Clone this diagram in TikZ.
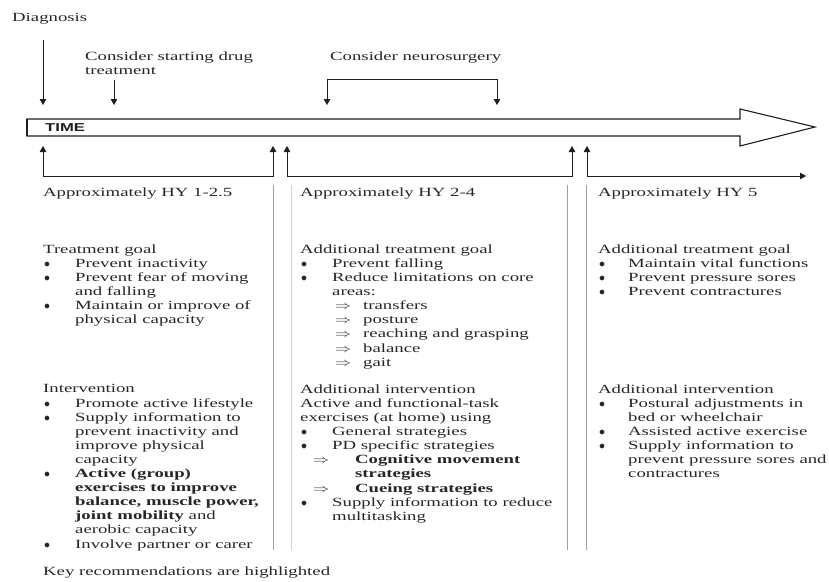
\documentclass[tikz,border=0pt]{standalone}
\usepackage{fontspec}
\setmainfont{Liberation Serif}[FakeStretch=1.50]
\newfontfamily\timefont{Liberation Sans}[FakeStretch=1.45]
\usepackage{xcolor}
\usepackage{graphicx}
\usetikzlibrary{arrows.meta}
\definecolor{pdtext}{HTML}{262626}
\definecolor{pdline}{HTML}{1E1E1E}
\definecolor{pdsep}{HTML}{A0A0A0}
\definecolor{pdpale}{HTML}{D2D2D2}
\newcommand{\bul}[1][32]{\makebox[#1pt][l]{\hspace*{1pt}$\bullet$}}
\newcommand{\ind}[1][32]{\hspace*{#1pt}}
\newcommand{\subarr}[2]{\makebox[#2pt][l]{\hspace*{#1pt}\scalebox{1.35}[1]{$\Rightarrow$}}}

\begin{document}
\begin{tikzpicture}[x=1pt,y=-1pt,
  txt/.style={anchor=base west,inner sep=0pt,align=left,text=pdtext,font=\fontsize{12.5}{14.1}\selectfont},
  block/.style={txt,anchor=north west},
  tip/.style={-{Triangle[width=6.5pt,length=6pt]},line width=0.9pt,draw=pdline},
  twotip/.style={{Triangle[width=6.5pt,length=6pt]}-{Triangle[width=6.5pt,length=6pt]},line width=0.9pt,draw=pdline},
  timebar/.style={draw=pdline,fill=white,line width=1.1pt},
  colsep/.style={draw=pdsep,line width=0.9pt},
  palesep/.style={draw=pdpale,line width=0.9pt}
]
  \useasboundingbox (0,0) rectangle (829,581);

  \node[txt] (diag) at (12,21) {Diagnosis};
  \node[block] (drug) at (85,51.5) {Consider starting drug\\treatment};
  \node[txt] (neuro) at (330,60) {Consider neurosurgery};

  \draw[timebar] (27,119) -- (740,119) -- (740,109) -- (815,127) -- (740,146) -- (740,136) -- (27,136) -- cycle;
  \draw[pdline,line width=2pt] (27,119) -- (27,136);
  \node[anchor=west,inner sep=0pt,text=pdline,font=\timefont\bfseries\fontsize{11.5}{13}\selectfont] (time) at (45,128) {TIME};

  \coordinate (diagtop) at (43,40);
  \coordinate (diagend) at (43,105);
  \coordinate (drugtop) at (114,80);
  \coordinate (drugend) at (114,105);
  \coordinate (neuroa) at (327,105);
  \coordinate (neurob) at (497,105);
  \draw[tip] (diagtop) -- (diagend);
  \draw[tip] (drugtop) -- (drugend);
  \draw[twotip] (neuroa) -- (327,79) -- (497,79) -- (neurob);

  \coordinate (hya) at (43,146);
  \coordinate (hyb) at (273,146);
  \coordinate (hyc) at (287,146);
  \coordinate (hyd) at (572,146);
  \coordinate (hye) at (587,146);
  \coordinate (hyf) at (806,176);
  \draw[twotip] (hya) -- (43,176) -- (273,176) -- (hyb);
  \draw[twotip] (hyc) -- (287,176) -- (572,176) -- (hyd);
  \draw[twotip] (hye) -- (587,176) -- (hyf);

  \draw[colsep] (273,185) -- (273,550);
  \draw[palesep] (291,185) -- (291,550);
  \draw[colsep] (567,185) -- (567,550);
  \draw[colsep] (586,185) -- (586,550);

  \node[txt] (hy1) at (43,196) {Approximately HY 1-2.5};
  \node[block] (goal1) at (43,244.5) {Treatment goal\\
    \bul Prevent inactivity\\
    \bul Prevent fear of moving\\
    \ind and falling\\
    \bul Maintain or improve of\\
    \ind physical capacity};
  \node[block] (int1) at (43,384.5) {Intervention\\
    \bul Promote active lifestyle\\
    \bul Supply information to\\
    \ind prevent inactivity and\\
    \ind improve physical\\
    \ind capacity\\
    \bul \textbf{Active (group)}\\
    \ind\textbf{exercises to improve}\\
    \ind\textbf{balance, muscle power,}\\
    \ind\textbf{joint mobility} and\\
    \ind aerobic capacity\\
    \bul Involve partner or carer};
  \node[txt] (key) at (43,575) {Key recommendations are highlighted};

  \node[txt] (hy2) at (300,196) {Approximately HY 2-4};
  \node[block] (goal2) at (300,244.5) {Additional treatment goal\\
    \bul Prevent falling\\
    \bul Reduce limitations on core\\
    \ind areas:\\
    \subarr{35}{63}transfers\\
    \subarr{35}{63}posture\\
    \subarr{35}{63}reaching and grasping\\
    \subarr{35}{63}balance\\
    \subarr{35}{63}gait};
  \node[block] (int2) at (300,384.5) {Additional intervention\\
    Active and functional-task\\
    exercises (at home) using\\
    \bul General strategies\\
    \bul PD specific strategies\\
    \subarr{13}{55}\textbf{Cognitive movement}\\
    \ind[55]\textbf{strategies}\\
    \subarr{13}{55}\textbf{Cueing strategies}\\
    \bul Supply information to reduce\\
    \ind multitasking};

  \node[txt] (hy3) at (598,196) {Approximately HY 5};
  \node[block] (goal3) at (598,244.5) {Additional treatment goal\\
    \bul[30]Maintain vital functions\\
    \bul[30]Prevent pressure sores\\
    \bul[30]Prevent contractures};
  \node[block] (int3) at (598,384.5) {Additional intervention\\
    \bul[30]Postural adjustments in\\
    \ind[30]bed or wheelchair\\
    \bul[30]Assisted active exercise\\
    \bul[30]Supply information to\\
    \ind[30]prevent pressure sores and\\
    \ind[30]contractures};
\end{tikzpicture}
\end{document}
